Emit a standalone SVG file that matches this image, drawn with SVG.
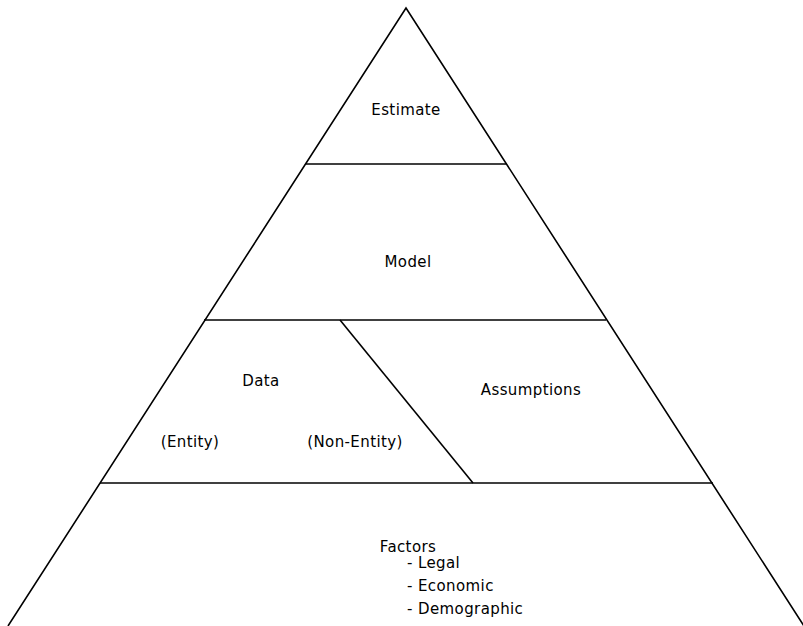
<svg xmlns="http://www.w3.org/2000/svg" width="803" height="626" viewBox="0 0 803 626">
<style>
.ln{stroke:#000;stroke-width:1.6;fill:none}
text{font-family:"DejaVu Sans","Liberation Sans",Arial,sans-serif;font-size:15px;letter-spacing:0.4px;fill:#000}
.c{text-anchor:middle}
</style>
<rect width="803" height="626" fill="#fff"/>
<g id="connectors">
<path class="ln" d="M8,626 L406,8 L804,626"/>
<line class="ln" x1="306" y1="164" x2="507" y2="164"/>
<line class="ln" x1="204" y1="320" x2="606" y2="320"/>
<line class="ln" x1="100" y1="483" x2="713" y2="483"/>
<line class="ln" x1="340" y1="320" x2="473" y2="483"/>
</g>
<g id="estimate"><text class="c" x="406" y="115">Estimate</text></g>
<g id="model"><text class="c" x="408" y="267">Model</text></g>
<g id="data">
<text class="c" x="261" y="386">Data</text>
<text class="c" x="190" y="447">(Entity)</text>
<text class="c" x="355" y="447">(Non-Entity)</text>
</g>
<g id="assumptions"><text class="c" x="531" y="395">Assumptions</text></g>
<g id="factors">
<text class="c" x="408" y="552">Factors</text>
<text x="407" y="568">- Legal</text>
<text x="407" y="591">- Economic</text>
<text x="407" y="614">- Demographic</text>
</g>
</svg>
